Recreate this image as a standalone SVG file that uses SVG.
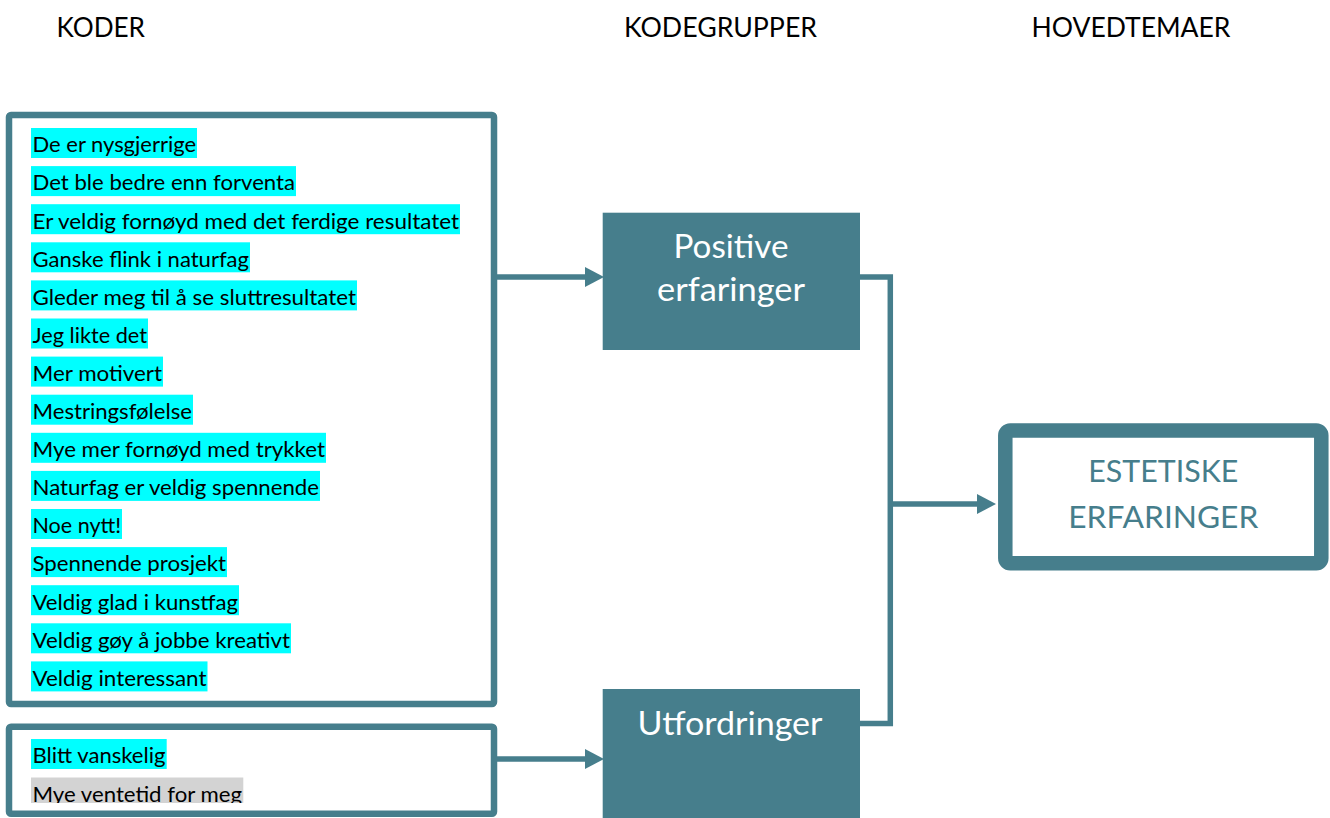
<svg xmlns="http://www.w3.org/2000/svg" width="1330" height="818" viewBox="0 0 1330 818">
<style>
.hdr{font-family:Lato,"Liberation Sans",sans-serif;font-size:27px;fill:#000}
.item{font-family:Lato,"Liberation Sans",sans-serif;font-size:22px;fill:#000}
.hl{fill:#00FFFF}
.hlg{fill:#D3D3D3}
.frame{fill:#fff;stroke:#467E8C;stroke-width:6.5}
.solid{fill:#467E8C}
.wt{font-family:Lato,"Liberation Sans",sans-serif;font-size:32px;fill:#fff;text-anchor:middle}
.tt{font-family:Lato,"Liberation Sans",sans-serif;font-size:30px;fill:#467E8C;text-anchor:middle}
.conn{fill:none;stroke:#467E8C;stroke-width:5.5}
</style>
<defs>
<marker id="arr" markerUnits="userSpaceOnUse" markerWidth="19" markerHeight="20" viewBox="0 0 19 20" refX="0" refY="10" orient="auto">
<path d="M0,0 L19,10 L0,20 z" fill="#467E8C"/>
</marker>
<clipPath id="clip2"><rect x="12" y="730" width="479" height="73"/></clipPath>
</defs>
<rect width="1330" height="818" fill="#fff"/>
<g id="headers">
<text class="hdr" x="56.5" y="37.3" textLength="88.5" lengthAdjust="spacingAndGlyphs">KODER</text>
<text class="hdr" x="624" y="37.3" textLength="193" lengthAdjust="spacingAndGlyphs">KODEGRUPPER</text>
<text class="hdr" x="1031.5" y="37.3" textLength="199" lengthAdjust="spacingAndGlyphs">HOVEDTEMAER</text>
</g>
<g id="koder-positive">
<rect class="frame" x="9" y="115" width="485" height="589" rx="2"/>
<rect class="hl" x="31" y="128" width="166" height="30"/>
<text class="item" x="32.5" y="152.3" textLength="163.5" lengthAdjust="spacingAndGlyphs">De er nysgjerrige</text>
<rect class="hl" x="31" y="166.1" width="265" height="30"/>
<text class="item" x="32.5" y="190.4" textLength="262.5" lengthAdjust="spacingAndGlyphs">Det ble bedre enn forventa</text>
<rect class="hl" x="31" y="204.2" width="429" height="30"/>
<text class="item" x="32.5" y="228.5" textLength="426.5" lengthAdjust="spacingAndGlyphs">Er veldig fornøyd med det ferdige resultatet</text>
<rect class="hl" x="31" y="242.3" width="219" height="30"/>
<text class="item" x="32.5" y="266.6" textLength="216.5" lengthAdjust="spacingAndGlyphs">Ganske flink i naturfag</text>
<rect class="hl" x="31" y="280.4" width="326" height="30"/>
<text class="item" x="32.5" y="304.7" textLength="323.5" lengthAdjust="spacingAndGlyphs">Gleder meg til å se sluttresultatet</text>
<rect class="hl" x="31" y="318.5" width="117" height="30"/>
<text class="item" x="32.5" y="342.8" textLength="114.5" lengthAdjust="spacingAndGlyphs">Jeg likte det</text>
<rect class="hl" x="31" y="356.6" width="132" height="30"/>
<text class="item" x="32.5" y="380.9" textLength="129.5" lengthAdjust="spacingAndGlyphs">Mer motivert</text>
<rect class="hl" x="31" y="394.7" width="162" height="30"/>
<text class="item" x="32.5" y="419" textLength="159.5" lengthAdjust="spacingAndGlyphs">Mestringsfølelse</text>
<rect class="hl" x="31" y="432.8" width="295" height="30"/>
<text class="item" x="32.5" y="457.1" textLength="292.5" lengthAdjust="spacingAndGlyphs">Mye mer fornøyd med trykket</text>
<rect class="hl" x="31" y="470.9" width="289" height="30"/>
<text class="item" x="32.5" y="495.2" textLength="286.5" lengthAdjust="spacingAndGlyphs">Naturfag er veldig spennende</text>
<rect class="hl" x="31" y="509" width="91" height="30"/>
<text class="item" x="32.5" y="533.3" textLength="88.5" lengthAdjust="spacingAndGlyphs">Noe nytt!</text>
<rect class="hl" x="31" y="547.1" width="196" height="30"/>
<text class="item" x="32.5" y="571.4" textLength="193.5" lengthAdjust="spacingAndGlyphs">Spennende prosjekt</text>
<rect class="hl" x="31" y="585.2" width="208" height="30"/>
<text class="item" x="32.5" y="609.5" textLength="205.5" lengthAdjust="spacingAndGlyphs">Veldig glad i kunstfag</text>
<rect class="hl" x="31" y="623.3" width="260" height="30"/>
<text class="item" x="32.5" y="647.6" textLength="257.5" lengthAdjust="spacingAndGlyphs">Veldig gøy å jobbe kreativt</text>
<rect class="hl" x="31" y="661.4" width="176.5" height="30"/>
<text class="item" x="32.5" y="685.7" textLength="174" lengthAdjust="spacingAndGlyphs">Veldig interessant</text>
</g>
<g id="koder-utfordringer">
<rect class="frame" x="9" y="726.7" width="485" height="87" rx="2"/>
<g clip-path="url(#clip2)">
<rect class="hl" x="31" y="739" width="135.7" height="30"/>
<text class="item" x="32.5" y="763.3" textLength="133" lengthAdjust="spacingAndGlyphs">Blitt vanskelig</text>
<rect class="hlg" x="31" y="777.5" width="212.3" height="30"/>
<text class="item" x="32.5" y="801.8" textLength="209.5" lengthAdjust="spacingAndGlyphs">Mye ventetid for meg</text>
</g>
</g>
<g id="positive-erfaringer">
<rect class="solid" x="602.7" y="212.7" width="257.3" height="137.3"/>
<text class="wt" x="731" y="258" textLength="115" lengthAdjust="spacingAndGlyphs">Positive</text>
<text class="wt" x="731" y="301" textLength="148" lengthAdjust="spacingAndGlyphs">erfaringer</text>
</g>
<g id="utfordringer">
<rect class="solid" x="602.7" y="689" width="257.3" height="135"/>
<text class="wt" x="730" y="735" textLength="185" lengthAdjust="spacingAndGlyphs">Utfordringer</text>
</g>
<g id="estetiske-erfaringer">
<rect x="1005.3" y="430.5" width="316" height="132.8" rx="5" fill="#fff" stroke="#467E8C" stroke-width="14.5"/>
<text class="tt" x="1163.3" y="481.7" textLength="150" lengthAdjust="spacingAndGlyphs">ESTETISKE</text>
<text class="tt" x="1163.3" y="528" textLength="190" lengthAdjust="spacingAndGlyphs">ERFARINGER</text>
</g>
<g id="connectors">
<line class="conn" x1="497" y1="277" x2="585" y2="277" marker-end="url(#arr)"/>
<line class="conn" x1="497" y1="759" x2="585" y2="759" marker-end="url(#arr)"/>
<polyline class="conn" points="860,277 890.3,277 890.3,723.5 860,723.5"/>
<line class="conn" x1="890.3" y1="504" x2="977" y2="504" marker-end="url(#arr)"/>
</g>
</svg>
